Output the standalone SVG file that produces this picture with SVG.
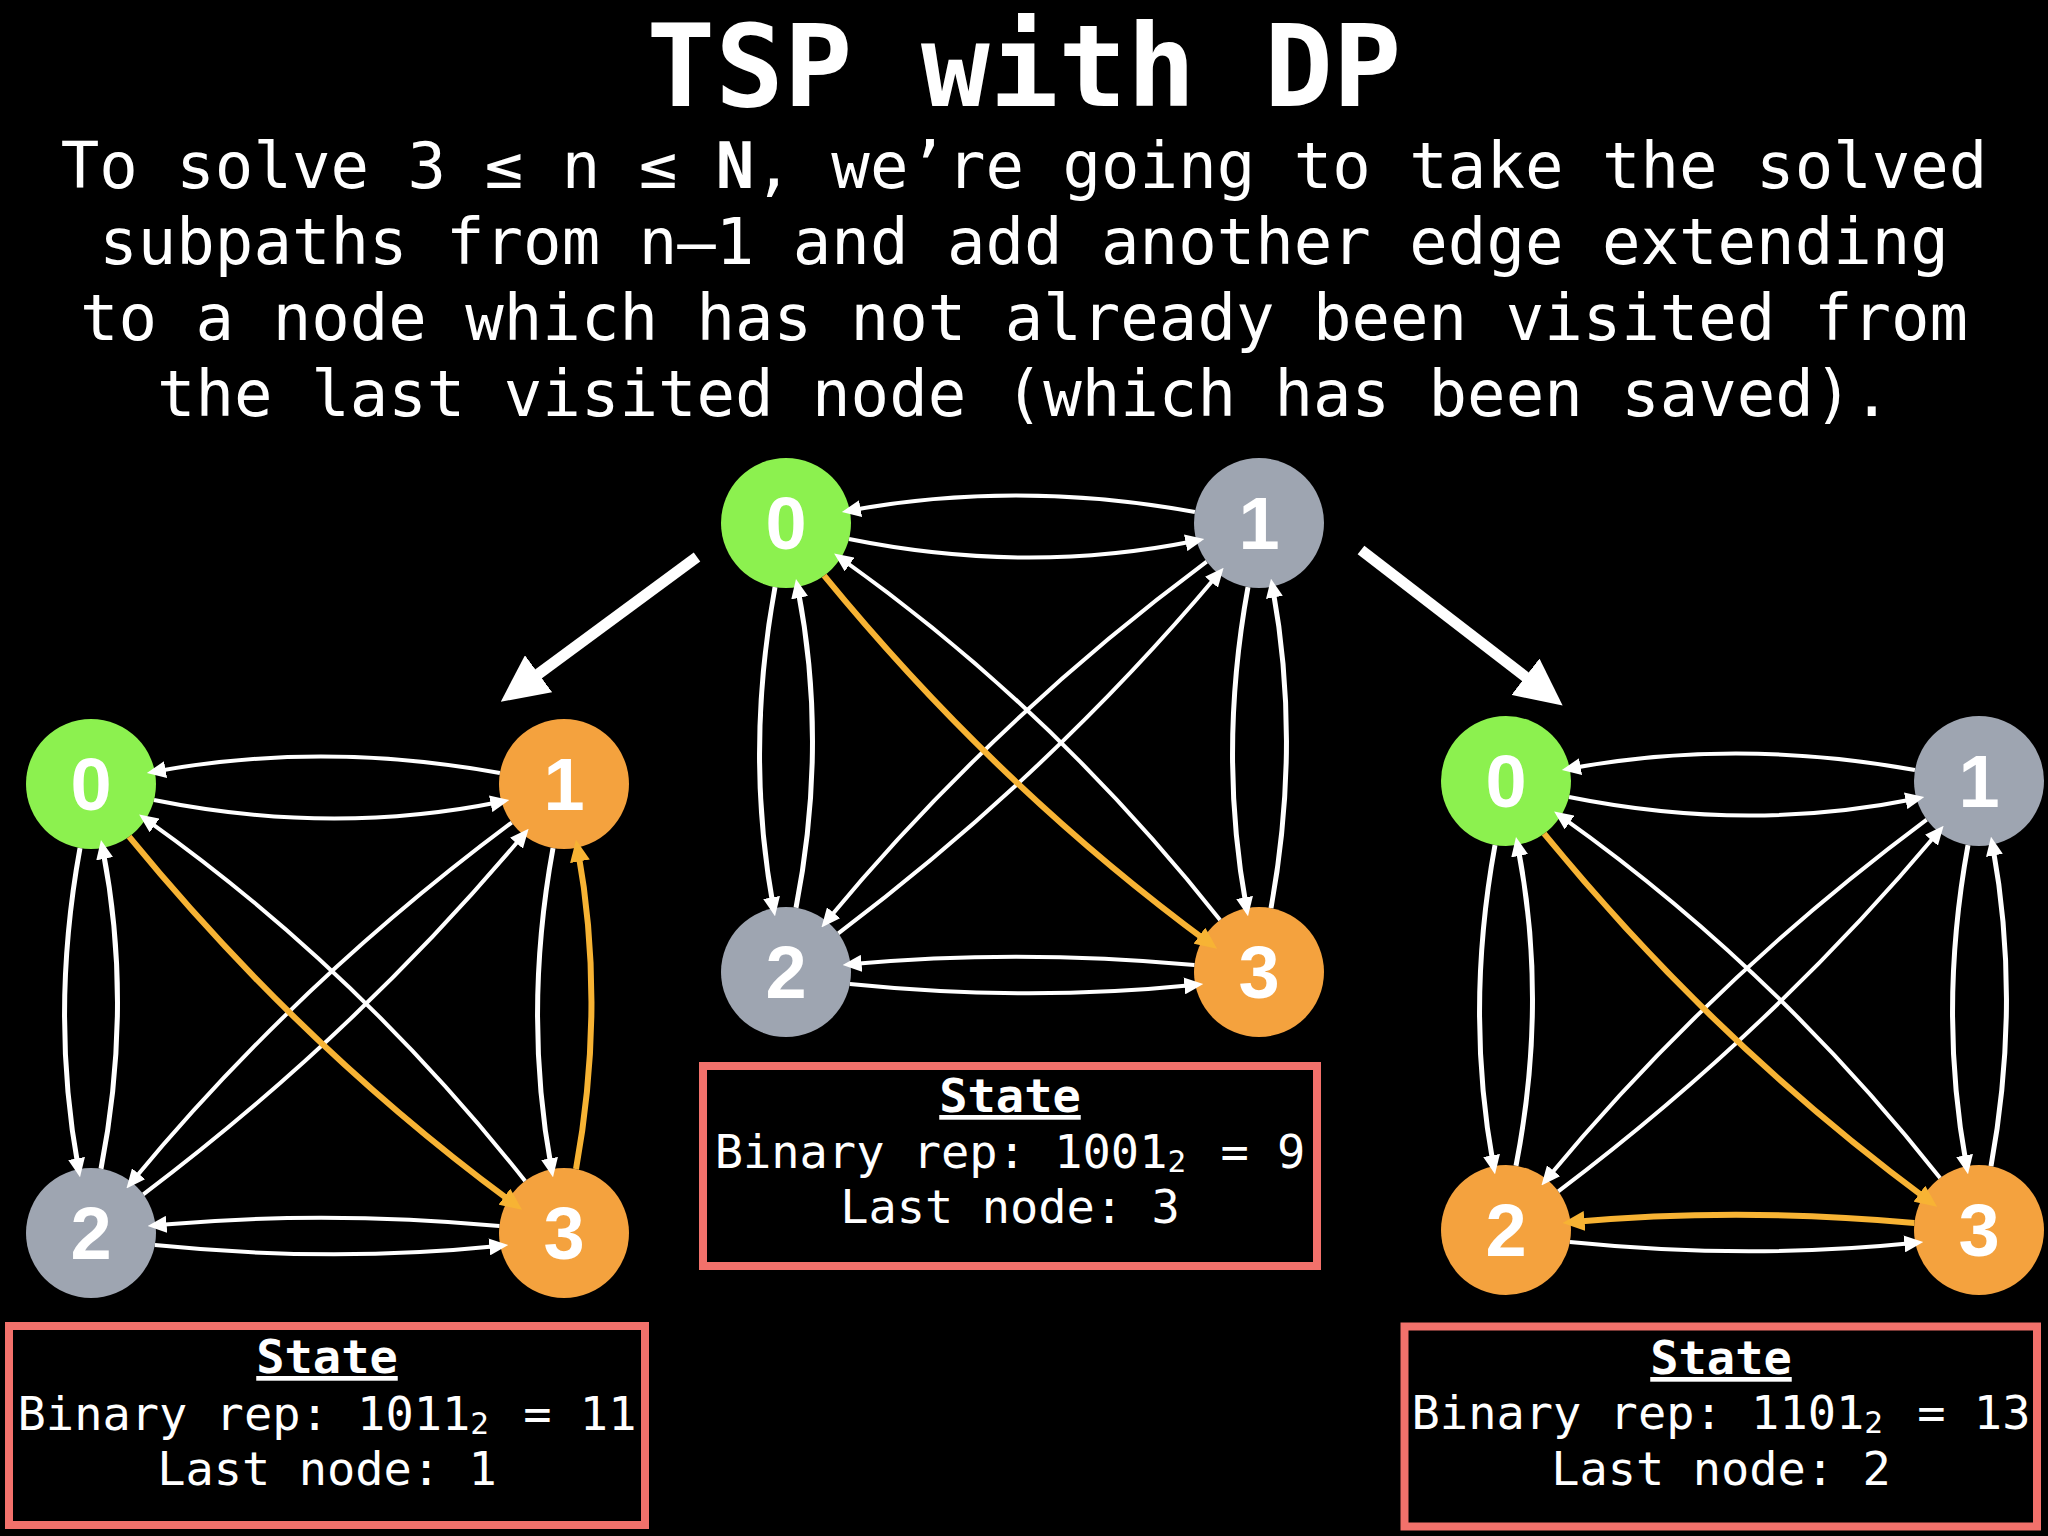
<svg xmlns="http://www.w3.org/2000/svg" width="2048" height="1536" viewBox="0 0 2048 1536">
<defs>
<style>
.t{font-family:"DejaVu Sans Mono","Liberation Mono",monospace;fill:#fff;text-anchor:middle}
.title{font-size:114px;font-weight:bold}
.body{font-size:64px}
.st{font-size:47px}
.sub{font-size:31px}
.stb{font-weight:bold;text-decoration:underline}
.box{fill:none;stroke:#F2716B;stroke-width:8}
.nl{font-family:"Liberation Sans",Arial,sans-serif;font-weight:bold;font-size:74px;fill:#fff;text-anchor:middle}
.green{fill:#8CF14F}
.gray{fill:#9EA5B1}
.orange{fill:#F4A23E}
.e{fill:none;stroke:#fff;stroke-width:4;marker-end:url(#aw)}
.ev{stroke-width:5}
.eo{stroke:#F7B334;stroke-width:6;marker-end:url(#ao)}
.big{fill:none;stroke:#fff;stroke-width:11;marker-end:url(#abig)}
</style>
<marker id="aw" markerUnits="userSpaceOnUse" viewBox="0 0 19 17" markerWidth="19" markerHeight="17" refX="9" refY="8.5" orient="auto"><path d="M0,0 L19,8.5 L0,17 Z" fill="#fff"/></marker>
<marker id="ao" markerUnits="userSpaceOnUse" viewBox="0 0 22 20" markerWidth="22" markerHeight="20" refX="12" refY="10" orient="auto"><path d="M0,0 L22,10 L0,20 Z" fill="#F7B334"/></marker>
<marker id="abig" markerUnits="userSpaceOnUse" viewBox="0 0 47 46" markerWidth="47" markerHeight="46" refX="2" refY="23" orient="auto"><path d="M0,0 L47,23 L0,46 Z" fill="#fff"/></marker>
</defs>
<rect x="0" y="0" width="2048" height="1536" fill="#000"/>

<g id="heading">
<text class="t title" x="1024" y="106">TSP with DP</text>
<text class="t body" x="1024" y="188">To solve 3 ≤ n ≤ <tspan font-weight="bold">N</tspan>, we’re going to take the solved</text>
<text class="t body" x="1024" y="264">subpaths from n–1 and add another edge extending</text>
<text class="t body" x="1024" y="340">to a node which has not already been visited from</text>
<text class="t body" x="1024" y="416">the last visited node (which has been saved).</text>
</g>

<g id="transition-arrows">
<path class="big" d="M697,557 L537,675"/>
<path class="big" d="M1361,550 L1527,678"/>
</g>

<!-- Center graph -->
<g id="graph-center" transform="translate(786,523)">
<g id="c-node0"><circle class="green" cx="0" cy="0" r="65"/><text class="nl" x="0" y="26">0</text></g>
<g id="c-node1"><circle class="gray" cx="473" cy="0" r="65"/><text class="nl" x="473" y="26">1</text></g>
<g id="c-node2"><circle class="gray" cx="0" cy="449" r="65"/><text class="nl" x="0" y="475">2</text></g>
<g id="c-node3"><circle class="orange" cx="473" cy="449" r="65"/><text class="nl" x="473" y="475">3</text></g>
<g id="c-connectors">
<path class="e" d="M63,16 Q240.7,52 408.5,18"/>
<path class="e" d="M408.9,-11 Q232.4,-43 65.7,-12.8"/>
<path class="e ev" d="M-11,64.1 Q-41,228.6 -12.8,383.3"/>
<path class="e ev" d="M10,384.8 Q42,220.5 11.9,65.9"/>
<path class="e ev" d="M462,64.1 Q432,228.6 460.2,383.3"/>
<path class="e ev" d="M485,385.1 Q515,220.4 486.8,65.5"/>
<path class="e" d="M63.9,461 Q240.6,479 407.3,462"/>
<path class="e" d="M408.4,442 Q232.5,426 66.6,441.1"/>
<path class="e" d="M434.1,396.9 Q267.3,186.2 56.3,36.3"/>
<path class="e" d="M420.7,38.6 Q206,198.3 41.8,396.7"/>
<path class="e" d="M52.3,410.4 Q265.6,249.3 431.2,52.3"/>
<path class="e eo" d="M38.1,52.7 Q211.1,263.9 423,419.8"/>
</g>
</g>

<!-- Left graph -->
<g id="graph-left" transform="translate(91,784)">
<g id="l-node0"><circle class="green" cx="0" cy="0" r="65"/><text class="nl" x="0" y="26">0</text></g>
<g id="l-node1"><circle class="orange" cx="473" cy="0" r="65"/><text class="nl" x="473" y="26">1</text></g>
<g id="l-node2"><circle class="gray" cx="0" cy="449" r="65"/><text class="nl" x="0" y="475">2</text></g>
<g id="l-node3"><circle class="orange" cx="473" cy="449" r="65"/><text class="nl" x="473" y="475">3</text></g>
<g id="l-connectors">
<path class="e" d="M63,16 Q240.7,52 408.5,18"/>
<path class="e" d="M408.9,-11 Q232.4,-43 65.7,-12.8"/>
<path class="e ev" d="M-11,64.1 Q-41,228.6 -12.8,383.3"/>
<path class="e ev" d="M10,384.8 Q42,220.5 11.9,65.9"/>
<path class="e ev" d="M462,64.1 Q432,228.6 460.2,383.3"/>
<path class="e" d="M63.9,461 Q240.6,479 407.3,462"/>
<path class="e" d="M408.4,442 Q232.5,426 66.6,441.1"/>
<path class="e" d="M434.1,396.9 Q267.3,186.2 56.3,36.3"/>
<path class="e" d="M420.7,38.6 Q206,198.3 41.8,396.7"/>
<path class="e" d="M52.3,410.4 Q265.6,249.3 431.2,52.3"/>
<path class="e eo" d="M38.1,52.7 Q211.1,263.9 423,419.8"/>
<path class="e eo" d="M485,385.1 Q515,220.4 486.8,65.5"/>
</g>
</g>

<!-- Right graph -->
<g id="graph-right" transform="translate(1506,781)">
<g id="r-node0"><circle class="green" cx="0" cy="0" r="65"/><text class="nl" x="0" y="26">0</text></g>
<g id="r-node1"><circle class="gray" cx="473" cy="0" r="65"/><text class="nl" x="473" y="26">1</text></g>
<g id="r-node2"><circle class="orange" cx="0" cy="449" r="65"/><text class="nl" x="0" y="475">2</text></g>
<g id="r-node3"><circle class="orange" cx="473" cy="449" r="65"/><text class="nl" x="473" y="475">3</text></g>
<g id="r-connectors">
<path class="e" d="M63,16 Q240.7,52 408.5,18"/>
<path class="e" d="M408.9,-11 Q232.4,-43 65.7,-12.8"/>
<path class="e ev" d="M-11,64.1 Q-41,228.6 -12.8,383.3"/>
<path class="e ev" d="M10,384.8 Q42,220.5 11.9,65.9"/>
<path class="e ev" d="M462,64.1 Q432,228.6 460.2,383.3"/>
<path class="e ev" d="M485,385.1 Q515,220.4 486.8,65.5"/>
<path class="e" d="M63.9,461 Q240.6,479 407.3,462"/>
<path class="e" d="M434.1,396.9 Q267.3,186.2 56.3,36.3"/>
<path class="e" d="M420.7,38.6 Q206,198.3 41.8,396.7"/>
<path class="e" d="M52.3,410.4 Q265.6,249.3 431.2,52.3"/>
<path class="e eo" d="M38.1,52.7 Q211.1,263.9 423,419.8"/>
<path class="e eo" d="M408.4,442 Q232.5,426 66.6,441.1"/>
</g>
</g>

<g id="state-center">
<rect class="box" x="703" y="1066" width="614" height="200"/>
<text class="t st stb" x="1010" y="1112">State</text>
<text class="t st" x="1010" y="1168">Binary rep: 1001<tspan class="sub" dy="4">2</tspan><tspan dx="6" dy="-4"> = 9</tspan></text>
<text class="t st" x="1010" y="1223">Last node: 3</text>
</g>
<g id="state-left">
<rect class="box" x="9" y="1326" width="636" height="199"/>
<text class="t st stb" x="327" y="1373">State</text>
<text class="t st" x="327" y="1430">Binary rep: 1011<tspan class="sub" dy="4">2</tspan><tspan dx="6" dy="-4"> = 11</tspan></text>
<text class="t st" x="327" y="1485">Last node: 1</text>
</g>
<g id="state-right">
<rect class="box" x="1404.5" y="1326.5" width="632.5" height="200"/>
<text class="t st stb" x="1721" y="1374">State</text>
<text class="t st" x="1721" y="1429">Binary rep: 1101<tspan class="sub" dy="4">2</tspan><tspan dx="6" dy="-4"> = 13</tspan></text>
<text class="t st" x="1721" y="1485">Last node: 2</text>
</g>
</svg>
